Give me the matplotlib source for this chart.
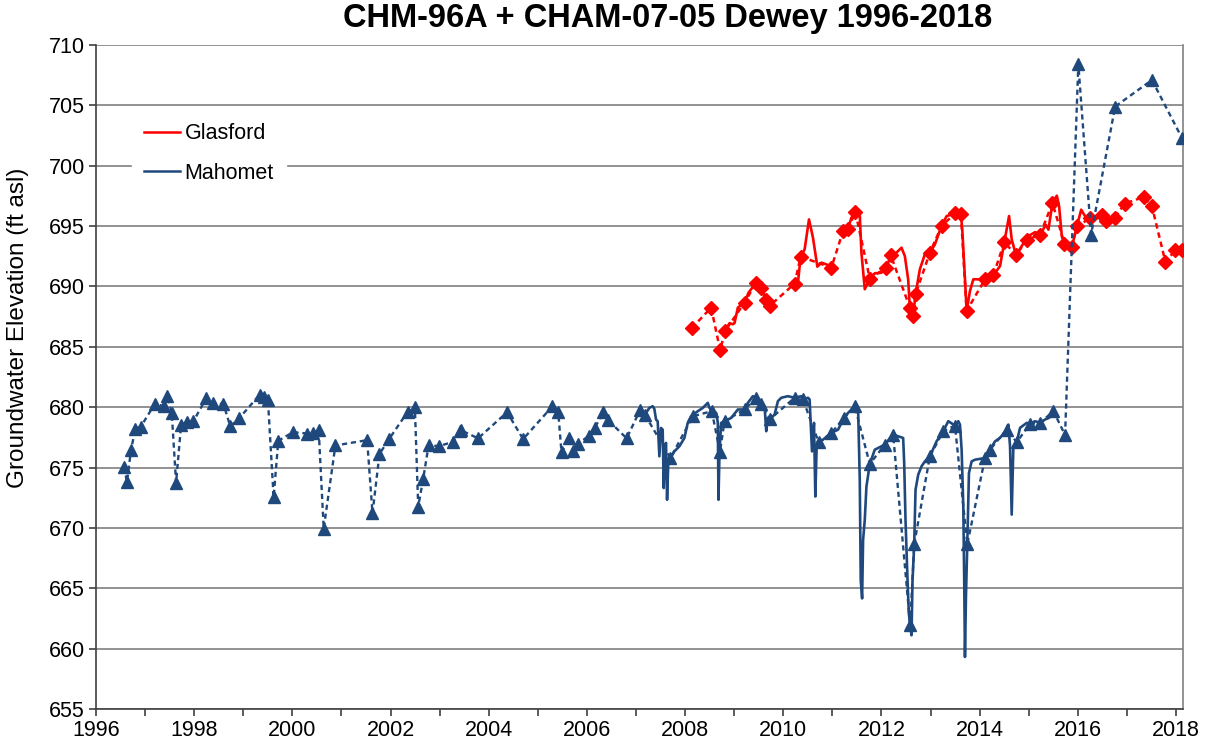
import matplotlib
matplotlib.use("Agg")
import matplotlib.pyplot as plt
from matplotlib.lines import Line2D
from matplotlib.ticker import MultipleLocator

plt.rcParams['font.family'] = ['Liberation Sans', 'DejaVu Sans']

title = "CHM-96A + CHAM-07-05 Dewey 1996-2018"
ylabel = "Groundwater Elevation (ft asl)"
legend_labels = ["Glasford", "Mahomet"]

# Mahomet manual measurements (triangles, dashed)
mah_manual_year = [1996.571, 1996.632, 1996.714, 1996.802, 1996.911, 1997.204, 1997.381, 1997.456,
                   1997.544, 1997.632, 1997.734, 1997.850, 1997.986, 1998.245, 1998.394, 1998.598,
                   1998.735, 1998.918, 1999.333, 1999.428, 1999.503, 1999.619, 1999.714, 2000.014,
                   2000.299, 2000.415, 2000.537, 2000.639, 2000.877, 2001.524, 2001.633, 2001.775,
                   2001.966, 2002.353, 2002.496, 2002.564, 2002.666, 2002.775, 2002.986, 2003.265,
                   2003.408, 2003.442, 2003.782, 2004.374, 2004.701, 2005.299, 2005.415, 2005.483,
                   2005.639, 2005.721, 2005.823, 2006.041, 2006.163, 2006.333, 2006.421, 2006.809,
                   2007.082, 2007.184, 2007.701, 2008.160, 2008.544, 2008.710, 2008.803, 2009.211,
                   2009.449, 2009.551, 2009.735, 2010.231, 2010.401, 2010.721, 2010.980, 2011.238,
                   2011.456, 2011.762, 2012.068, 2012.238, 2012.585, 2012.667, 2012.986, 2013.259,
                   2013.497, 2013.748, 2014.109, 2014.211, 2014.551, 2014.755, 2015.027, 2015.231,
                   2015.503, 2015.740, 2016.010, 2016.270, 2016.760, 2017.510, 2018.120]
mah_manual_val = [675.07, 673.80, 676.45, 678.21, 678.37, 680.30, 680.08, 680.96,
                  679.53, 673.75, 678.51, 678.79, 678.84, 680.74, 680.36, 680.25,
                  678.43, 679.09, 681.02, 680.85, 680.58, 672.53, 677.22, 677.93,
                  677.82, 677.88, 678.10, 669.94, 676.83, 677.27, 671.21, 676.12,
                  677.33, 679.64, 680.03, 671.76, 674.08, 676.83, 676.78, 677.11,
                  678.02, 678.08, 677.42, 679.58, 677.36, 680.08, 679.64, 676.25,
                  677.42, 676.36, 676.97, 677.64, 678.31, 679.58, 678.97, 677.42,
                  679.75, 679.36, 675.79, 679.25, 679.67, 676.30, 678.84, 679.81,
                  680.78, 680.30, 679.03, 680.78, 680.64, 677.09, 677.87, 679.11,
                  680.08, 675.29, 676.90, 677.73, 661.94, 668.64, 675.93, 678.01,
                  678.48, 668.64, 675.79, 676.48, 678.15, 677.10, 678.62, 678.70,
                  679.67, 677.70, 708.40, 694.30, 704.90, 707.10, 702.30]

# Mahomet continuous transducer record (solid)
mah_cont_year = [2007.204, 2007.272, 2007.340, 2007.374, 2007.408, 2007.442, 2007.476, 2007.510,
                 2007.544, 2007.565, 2007.592, 2007.612, 2007.633, 2007.660, 2007.701, 2007.782,
                 2007.884, 2007.986, 2008.054, 2008.122, 2008.259, 2008.361, 2008.463, 2008.497,
                 2008.544, 2008.633, 2008.667, 2008.680, 2008.701, 2008.735, 2008.803, 2008.939,
                 2009.075, 2009.211, 2009.279, 2009.381, 2009.449, 2009.551, 2009.619, 2009.653,
                 2009.687, 2009.735, 2009.823, 2009.891, 2009.959, 2010.095, 2010.231, 2010.367,
                 2010.401, 2010.503, 2010.537, 2010.558, 2010.585, 2010.626, 2010.653, 2010.680,
                 2010.721, 2010.810, 2010.980, 2011.116, 2011.238, 2011.320, 2011.456, 2011.490,
                 2011.524, 2011.558, 2011.578, 2011.606, 2011.626, 2011.660, 2011.694, 2011.762,
                 2011.864, 2012.000, 2012.068, 2012.204, 2012.238, 2012.340, 2012.442, 2012.463,
                 2012.490, 2012.531, 2012.558, 2012.585, 2012.612, 2012.633, 2012.667, 2012.694,
                 2012.748, 2012.816, 2012.884, 2012.986, 2013.122, 2013.259, 2013.361, 2013.497,
                 2013.565, 2013.599, 2013.633, 2013.667, 2013.687, 2013.701, 2013.721, 2013.748,
                 2013.782, 2013.837, 2013.905, 2014.109, 2014.211, 2014.313, 2014.415, 2014.551,
                 2014.585, 2014.619, 2014.653, 2014.687, 2014.755, 2014.823, 2014.959, 2015.027,
                 2015.129, 2015.231, 2015.333, 2015.415, 2015.503]
mah_cont_val = [679.53, 679.94, 680.08, 679.86, 678.98, 678.84, 675.93, 678.28,
                678.14, 673.30, 676.76, 677.04, 672.33, 675.65, 675.79, 676.34,
                676.76, 677.45, 678.70, 679.25, 679.67, 679.94, 680.36, 679.94,
                679.67, 679.53, 678.70, 672.33, 676.26, 678.70, 678.84, 679.11,
                679.81, 679.81, 680.36, 680.91, 680.78, 680.30, 680.08, 678.01,
                679.11, 679.03, 679.39, 680.50, 680.78, 680.91, 680.78, 680.91,
                680.64, 680.78, 680.64, 678.70, 676.34, 678.70, 672.60, 676.76,
                677.09, 677.31, 677.87, 678.14, 679.11, 679.53, 680.08, 680.22,
                679.94, 673.99, 665.68, 664.16, 669.00, 670.66, 673.43, 675.29,
                676.48, 676.76, 676.90, 677.59, 677.73, 677.59, 677.45, 675.37,
                670.66, 665.68, 662.91, 661.94, 661.11, 665.68, 668.64, 673.16,
                674.40, 675.10, 675.51, 675.93, 677.17, 678.01, 678.84, 678.48,
                678.84, 678.56, 676.48, 671.77, 665.12, 659.31, 664.29, 668.64,
                674.54, 675.51, 675.65, 675.79, 676.48, 677.17, 677.46, 678.15,
                678.56, 676.77, 671.10, 676.77, 677.10, 678.29, 678.70, 678.62,
                678.84, 678.70, 678.98, 679.12, 679.67]

# Glasford manual measurements (diamonds, dashed)
gla_manual_year = [2008.136, 2008.531, 2008.714, 2008.816, 2009.211, 2009.449, 2009.537, 2009.653,
                   2009.721, 2010.231, 2010.354, 2010.980, 2011.218, 2011.320, 2011.469, 2011.762,
                   2012.102, 2012.190, 2012.578, 2012.646, 2012.694, 2012.986, 2013.224, 2013.497,
                   2013.619, 2013.735, 2014.109, 2014.279, 2014.503, 2014.741, 2014.959, 2015.231,
                   2015.483, 2015.728, 2015.878, 2015.980, 2016.252, 2016.490, 2016.572, 2016.748,
                   2016.953, 2017.340, 2017.510, 2017.782, 2017.986, 2018.120]
gla_manual_val = [686.54, 688.25, 684.72, 686.32, 688.66, 690.32, 689.90, 688.88,
                  688.39, 690.23, 692.47, 691.56, 694.59, 694.78, 696.16, 690.65,
                  691.56, 692.58, 688.25, 687.56, 689.35, 692.80, 695.00, 696.05,
                  695.96, 687.98, 690.59, 690.92, 693.68, 692.58, 693.86, 694.28,
                  696.91, 693.53, 693.25, 694.97, 695.66, 695.94, 695.39, 695.66,
                  696.86, 697.41, 696.63, 692.06, 692.98, 692.98]

# Glasford continuous record (solid), three segments
gla_cont1_year = [2008.816, 2008.905, 2008.973, 2009.007, 2009.075, 2009.211, 2009.293, 2009.449,
                  2009.537, 2009.653, 2009.721]
gla_cont1_val = [686.32, 686.96, 686.87, 686.96, 688.25, 688.66, 689.49, 690.32,
                 689.90, 688.88, 688.39]
gla_cont2_year = [2010.231, 2010.299, 2010.354, 2010.435, 2010.524, 2010.605, 2010.694, 2010.776,
                  2010.878, 2010.980]
gla_cont2_val = [690.23, 690.32, 692.47, 693.07, 695.55, 694.04, 691.64, 691.97,
                 691.83, 691.56]
gla_cont3_year = [2011.218, 2011.320, 2011.388, 2011.469, 2011.558, 2011.592, 2011.660, 2011.762,
                  2011.864, 2012.000, 2012.102, 2012.190, 2012.272, 2012.408, 2012.476, 2012.544,
                  2012.578, 2012.646, 2012.694, 2012.782, 2012.884, 2012.986, 2013.088, 2013.224,
                  2013.327, 2013.497, 2013.619, 2013.646, 2013.701, 2013.735, 2013.803, 2013.871,
                  2014.109, 2014.279, 2014.415, 2014.503, 2014.599, 2014.653, 2014.741, 2014.857,
                  2014.993, 2015.129, 2015.231, 2015.347, 2015.401, 2015.483, 2015.572, 2015.619,
                  2015.674, 2015.728, 2015.878, 2015.980, 2016.068, 2016.150, 2016.252, 2016.388,
                  2016.490, 2016.572]
gla_cont3_val = [694.59, 694.78, 695.69, 696.16, 695.96, 692.80, 689.77, 690.65,
                 691.09, 691.14, 691.56, 692.58, 692.66, 693.21, 692.52, 690.59,
                 688.25, 687.56, 689.35, 691.42, 692.66, 692.80, 693.48, 695.00,
                 695.83, 696.05, 695.96, 694.72, 690.59, 687.98, 689.63, 690.59,
                 690.59, 690.92, 691.69, 693.68, 695.83, 693.90, 692.58, 693.35,
                 694.17, 694.50, 694.28, 695.11, 694.70, 696.91, 697.52, 696.63,
                 694.14, 693.53, 693.25, 694.97, 696.36, 695.80, 695.66, 695.66,
                 695.94, 695.39]

RED = "#FF0000"
BLUE = "#1F497D"

fig = plt.figure(figsize=(12.10, 7.51), dpi=100)
ax = fig.add_axes([0.0793, 0.0559, 0.8983, 0.8842])

# Glasford
ax.plot(gla_manual_year, gla_manual_val, color=RED, lw=1.8, ls=(0, (2.2, 1.6)),
        marker='D', ms=7, mfc=RED, mec=RED, zorder=3)
for yy, vv in [(gla_cont1_year, gla_cont1_val), (gla_cont2_year, gla_cont2_val),
               (gla_cont3_year, gla_cont3_val)]:
    ax.plot(yy, vv, color=RED, lw=1.9, zorder=3)

# Mahomet
ax.plot(mah_manual_year, mah_manual_val, color=BLUE, lw=1.7, ls=(0, (2.2, 1.6)),
        marker='^', ms=8.5, mfc=BLUE, mec=BLUE, zorder=4)
ax.plot(mah_cont_year, mah_cont_val, color=BLUE, lw=1.9, zorder=4)

ax.set_xlim(1996, 2018.14)
ax.set_ylim(655, 710)
ax.xaxis.set_minor_locator(MultipleLocator(1))
ax.yaxis.set_major_locator(MultipleLocator(5))
ax.set_xticks(range(1996, 2019, 2))
ax.set_xticklabels([str(y) for y in range(1996, 2019, 2)])

ax.grid(axis='y', color='#7F7F7F', lw=1.2)
ax.set_axisbelow(True)
ax.spines['top'].set_visible(False)
ax.spines['left'].set_color('#404040')
ax.spines['bottom'].set_color('#404040')
ax.spines['right'].set_color('#808080')
for s in ax.spines.values():
    s.set_linewidth(1.2)

ax.tick_params(axis='both', which='major', direction='out', length=5, width=1.2,
               color='#404040', labelsize=15.5, pad=3)
ax.tick_params(axis='x', which='minor', direction='out', length=5, width=1.2, color='#404040')

fig.text(18 / 1210, 1 - 328 / 751, ylabel, rotation=90, ha='center', va='center', fontsize=17.5)
fig.text(668 / 1210, 1 - 18 / 751, title, ha='center', va='center', fontsize=23.5, fontweight='bold')

handles = [Line2D([0], [0], color=RED, lw=1.8), Line2D([0], [0], color=BLUE, lw=1.8)]
leg = ax.legend(handles, legend_labels, loc='upper left', bbox_to_anchor=(0.033, 0.9),
                borderaxespad=0, frameon=True, fancybox=False, framealpha=1, edgecolor='white',
                fontsize=15.5, handlelength=1.7, handletextpad=0.2, labelspacing=0.85,
                borderpad=0.55)
leg.set_zorder(5)

fig.savefig("out.png", dpi=100)
